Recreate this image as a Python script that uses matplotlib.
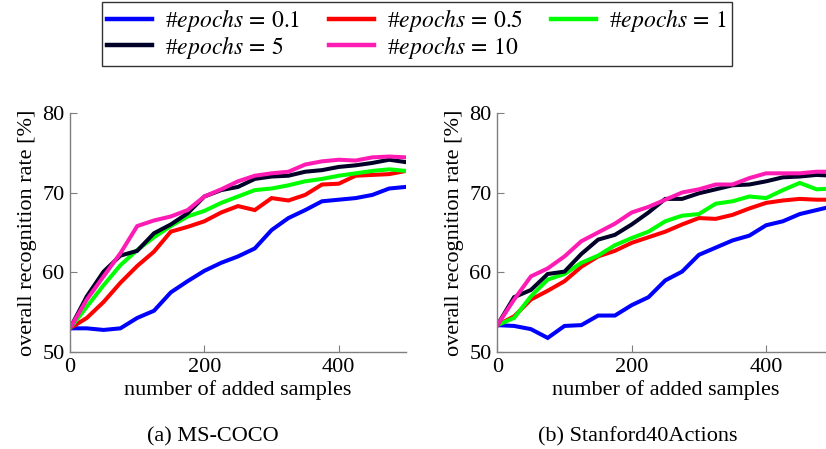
import numpy as np
import matplotlib
matplotlib.use("Agg")
import matplotlib.pyplot as plt

plt.rcParams["font.family"] = "Liberation Serif"
plt.rcParams["mathtext.fontset"] = "stix"

# number of added samples (same grid for both datasets)
samples = np.arange(0, 501, 25)

labels = [r"#$epochs\,=\,0.1$", r"#$epochs\,=\,0.5$", r"#$epochs\,=\,1$",
          r"#$epochs\,=\,5$", r"#$epochs\,=\,10$"]
colors = ["#0000FF", "#FF0000", "#00FF00", "#000028", "#FF1CB4"]

# (a) MS-COCO
coco_01 = [53.0, 53.0, 52.8, 53.0, 54.3, 55.2, 57.5, 58.9, 60.2, 61.2, 62.0,
           63.0, 65.3, 66.8, 67.8, 68.9, 69.1, 69.3, 69.7, 70.5, 70.7]
coco_05 = [53.0, 54.3, 56.3, 58.7, 60.8, 62.6, 65.1, 65.7, 66.4, 67.5, 68.3,
           67.8, 69.3, 69.0, 69.7, 71.0, 71.1, 72.1, 72.2, 72.3, 72.7]
coco_1 = [53.0, 55.7, 58.4, 60.9, 62.8, 64.4, 65.8, 67.0, 67.7, 68.7, 69.5,
          70.3, 70.5, 70.9, 71.4, 71.7, 72.1, 72.4, 72.7, 72.9, 72.7]
coco_5 = [53.0, 57.0, 60.1, 62.1, 62.7, 64.9, 66.0, 67.4, 69.5, 70.3, 70.7,
          71.7, 72.0, 72.1, 72.6, 72.8, 73.2, 73.4, 73.7, 74.1, 73.8]
coco_10 = [53.0, 56.6, 59.5, 62.4, 65.8, 66.5, 67.0, 67.8, 69.5, 70.4, 71.4,
           72.1, 72.4, 72.6, 73.5, 73.9, 74.1, 74.0, 74.4, 74.5, 74.4]

# (b) Stanford40Actions
stan_01 = [53.4, 53.3, 52.9, 51.8, 53.3, 53.4, 54.6, 54.6, 55.9, 56.9, 59.0,
           60.1, 62.2, 63.1, 64.0, 64.6, 65.9, 66.4, 67.3, 67.8, 68.3]
stan_05 = [53.4, 54.5, 56.6, 57.7, 58.9, 60.7, 62.0, 62.7, 63.7, 64.4, 65.1,
           66.0, 66.8, 66.7, 67.2, 68.0, 68.7, 69.0, 69.2, 69.1, 69.1]
stan_1 = [53.4, 54.3, 57.0, 59.1, 59.8, 61.2, 62.1, 63.4, 64.3, 65.1, 66.4,
          67.1, 67.3, 68.6, 68.9, 69.5, 69.3, 70.3, 71.2, 70.4, 70.5]
stan_5 = [53.4, 56.9, 57.8, 59.8, 60.1, 62.3, 64.1, 64.7, 66.0, 67.5, 69.2,
          69.2, 69.9, 70.4, 70.9, 71.0, 71.4, 71.9, 72.0, 72.2, 72.1]
stan_10 = [53.4, 56.6, 59.5, 60.5, 62.0, 63.9, 65.0, 66.1, 67.5, 68.2, 69.1,
           70.0, 70.4, 71.0, 71.0, 71.8, 72.4, 72.4, 72.4, 72.6, 72.6]

W, H = 826, 449
fig = plt.figure(figsize=(W / 100, H / 100), dpi=100)


def make_axes(x0, series, caption, cap_x):
    ax = fig.add_axes([x0 / W, (H - 352.3) / H, 336 / W, 239.7 / H])
    handles = []
    for ys, c, lab in zip(series, colors, labels):
        h, = ax.plot(samples, ys, color=c, lw=2.9, label=lab,
                     solid_joinstyle="miter")
        handles.append(h)
    ax.set_xlim(0, 500)
    ax.set_ylim(50, 80)
    ax.set_xticks([0, 200, 400])
    ax.set_yticks([50, 60, 70, 80])
    for s in ["top", "right"]:
        ax.spines[s].set_visible(False)
    for s in ["left", "bottom"]:
        ax.spines[s].set_color("#7f7f7f")
        ax.spines[s].set_linewidth(1.0)
    ax.tick_params(direction="in", length=5, width=0.8, color="#7f7f7f",
                   labelsize=16, pad=4)
    ax.set_xlabel("number of added samples", fontsize=16, labelpad=2)
    ax.set_ylabel("overall recognition rate [%]", fontsize=16, labelpad=4)
    fig.text(cap_x / W, 1 - 437 / H, caption, ha="center", va="center",
             fontsize=16)
    return handles


handles = make_axes(70, [coco_01, coco_05, coco_1, coco_5, coco_10],
                    "(a) MS-COCO", 213)
make_axes(497.3, [stan_01, stan_05, stan_1, stan_5, stan_10],
          "(b) Stanford40Actions", 638)

# legend is filled row by row in the reference
order = [0, 3, 1, 4, 2]
leg = fig.legend(handles=[handles[i] for i in order],
                 labels=[labels[i] for i in order],
                 loc="upper center", ncol=3,
                 bbox_to_anchor=(417 / W, 1 - 2 / H), fontsize=17,
                 frameon=True, fancybox=False, edgecolor="black",
                 handlelength=1.9, handletextpad=0.55, columnspacing=1.2,
                 labelspacing=-0.02, borderpad=0.22, borderaxespad=0)
leg.get_frame().set_linewidth(1.0)
for line in leg.get_lines():
    line.set_linewidth(3.2)

fig.savefig("out.png", dpi=100)
